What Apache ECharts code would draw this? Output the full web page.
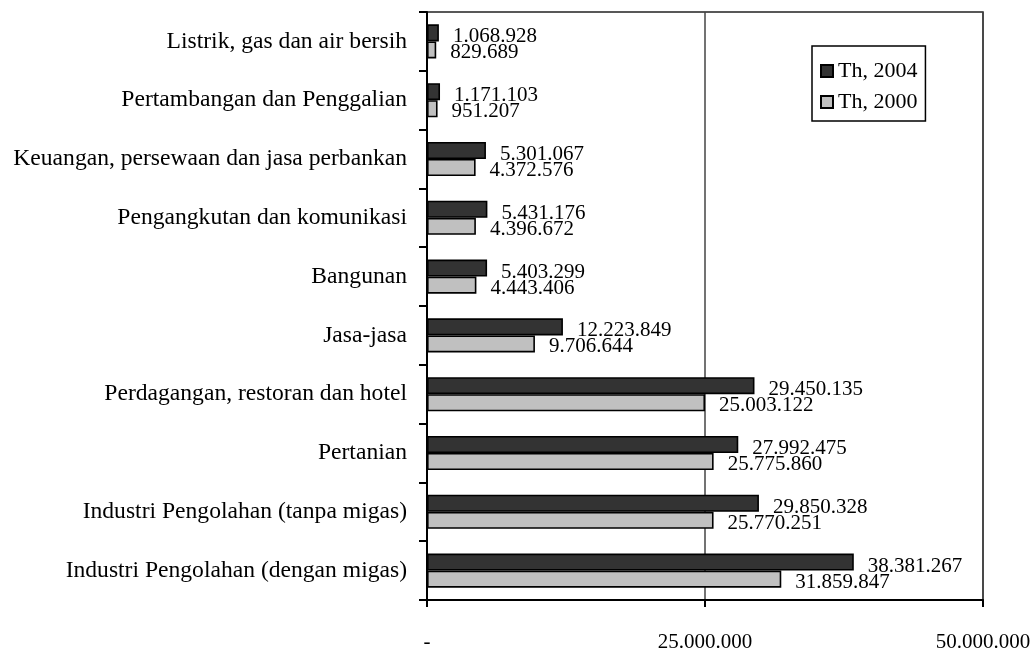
<!DOCTYPE html>
<html>
<head>
<meta charset="utf-8">
<script src="https://cdn.jsdelivr.net/npm/echarts@6/dist/echarts.min.js"></script>
<style>
html,body{margin:0;padding:0;background:#fff;}
#chart{width:1033px;height:648px;}
</style>
</head>
<body>
<div id="chart"></div>
<script>
var categories = [
  'Listrik, gas dan air bersih',
  'Pertambangan dan Penggalian',
  'Keuangan, persewaan dan jasa perbankan',
  'Pengangkutan dan komunikasi',
  'Bangunan',
  'Jasa-jasa',
  'Perdagangan, restoran dan hotel',
  'Pertanian',
  'Industri Pengolahan (tanpa migas)',
  'Industri Pengolahan (dengan migas)'
];
var th2004 = [1068928, 1171103, 5301067, 5431176, 5403299, 12223849, 29450135, 27992475, 29850328, 38381267];
var th2000 = [829689, 951207, 4372576, 4396672, 4443406, 9706644, 25003122, 25775860, 25770251, 31859847];
var seriesNames = ['Th, 2004', 'Th, 2000'];
var axisTicks = [0, 25000000, 50000000];

function fmt(v) {
  if (v === 0) return '-';
  return String(Math.round(v)).replace(/\B(?=(\d{3})+(?!\d))/g, '.');
}

var FONT = 'Liberation Serif';
var chart = echarts.init(document.getElementById('chart'), null, {renderer: 'canvas'});

function mkSeries(name, data, color, off) {
  return {
    name: name,
    type: 'bar',
    data: data,
    barGap: '0%',
    barCategoryGap: '42%',
    itemStyle: {color: color, borderColor: '#000', borderWidth: 1.6},
    label: {
      show: true,
      position: 'right',
      distance: 14,
      offset: [0, off],
      color: '#000',
      fontFamily: FONT,
      fontSize: 21,
      formatter: function (p) { return fmt(p.value); }
    },
    animation: false
  };
}

chart.setOption({
  backgroundColor: '#fff',
  animation: false,
  grid: {
    left: 427, right: 50, top: 12, bottom: 48,
    outerBoundsMode: 'none',
    containLabel: false,
    show: true, borderColor: '#222', borderWidth: 1.5, backgroundColor: 'transparent'
  },
  legend: {
    orient: 'vertical',
    left: 812, top: 46,
    data: seriesNames,
    backgroundColor: '#fff',
    borderColor: '#000', borderWidth: 1.5,
    padding: [14, 8, 8, 8],
    itemGap: 9,
    itemWidth: 12, itemHeight: 12,
    icon: 'rect',
    textStyle: {fontFamily: FONT, fontSize: 22, color: '#000'}
  },
  xAxis: {
    type: 'value',
    min: axisTicks[0], max: axisTicks[axisTicks.length - 1], interval: axisTicks[1] - axisTicks[0],
    axisLine: {show: true, onZero: false, lineStyle: {color: '#000', width: 2}},
    axisTick: {show: true, length: 7, lineStyle: {color: '#000', width: 2}},
    splitLine: {show: true, lineStyle: {color: '#444', width: 1.5}},
    axisLabel: {
      margin: 32, color: '#000', fontFamily: FONT, fontSize: 21,
      formatter: function (v) { return fmt(v); }
    }
  },
  yAxis: {
    type: 'category',
    data: categories,
    inverse: true,
    axisLine: {show: true, lineStyle: {color: '#000', width: 2}},
    axisTick: {show: true, length: 8, lineStyle: {color: '#000', width: 2}},
    splitLine: {show: false},
    axisLabel: {margin: 20, color: '#000', fontFamily: FONT, fontSize: 23.6}
  },
  series: [
    mkSeries(seriesNames[0], th2004, '#333333', 4),
    mkSeries(seriesNames[1], th2000, '#c0c0c0', 3)
  ]
});
</script>
</body>
</html>
